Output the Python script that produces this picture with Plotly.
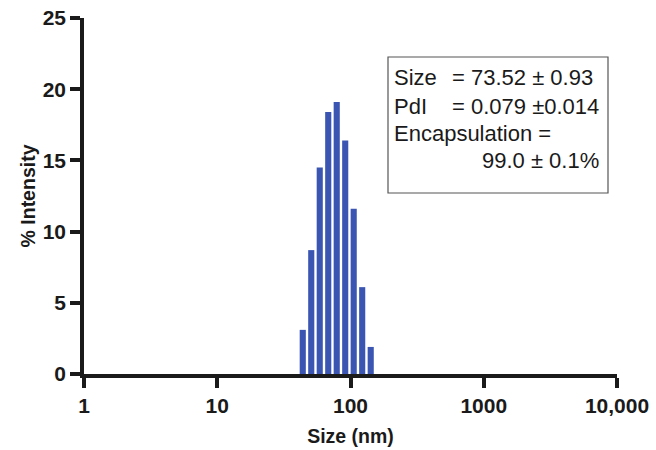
import numpy as np
import plotly.graph_objects as go

# Data
sizes_nm = [43.82, 50.75, 58.77, 68.06, 78.82, 91.28, 105.7, 122.4, 141.8]
intensity = [3.1, 8.7, 14.5, 18.4, 19.1, 16.4, 11.6, 6.1, 1.9]
x_tickvals = [1, 10, 100, 1000, 10000]
x_ticktext = ["1", "10", "100", "1000", "10,000"]
y_tickvals = [0, 5, 10, 15, 20, 25]
info_labels = ["Size", "PdI", "Encapsulation ="]
info_values = ["= 73.52 ± 0.93", "= 0.079 ±0.014"]
info_last = "99.0 ± 0.1%"

W, H = 656, 450
L, R, T, B = 84, 39, 18, 76
pw, ph = W - L - R, H - T - B

def px(x):
    return (x - L) / pw

def py(y):
    return (H - B - y) / ph

fig = go.Figure()
fig.add_trace(go.Bar(
    x=np.log10(sizes_nm), y=intensity, width=0.046,
    marker=dict(color="#3b56b2", line=dict(width=0)),
))

font_family = "Liberation Sans, Arial, sans-serif"
axis_common = dict(
    showline=True, linecolor="#1a1a1a", linewidth=3.5,
    ticks="outside", ticklen=10, tickwidth=3.5, tickcolor="#1a1a1a",
    showgrid=False, zeroline=False, automargin=False,
    tickfont=dict(family=font_family, size=21, color="#1a1a1a", weight="bold"),
)

fig.update_layout(
    width=W, height=H,
    margin=dict(l=L, r=R, t=T, b=B),
    paper_bgcolor="white", plot_bgcolor="white",
    showlegend=False,
    xaxis=dict(
        range=[0, 4], tickvals=np.log10(x_tickvals), ticktext=x_ticktext,
        title=dict(text="Size (nm)", standoff=14,
                   font=dict(family=font_family, size=19.5, color="#1a1a1a", weight="bold")),
        **axis_common,
    ),
    yaxis=dict(
        range=[0, 25], tickvals=y_tickvals,
        title=dict(text="% Intensity", standoff=3,
                   font=dict(family=font_family, size=19.5, color="#1a1a1a", weight="bold")),
        **axis_common,
    ),
)

# Info box
fig.add_shape(type="rect", xref="paper", yref="paper",
              x0=px(388), x1=px(608), y0=py(57), y1=py(193),
              line=dict(color="#555555", width=1.2), fillcolor="white")

afont = dict(family=font_family, size=22, color="#1a1a1a")
line_y = [78, 106, 133, 160]
for i, lab in enumerate(info_labels):
    fig.add_annotation(xref="paper", yref="paper", x=px(392), y=py(line_y[i]),
                       text=lab, showarrow=False, xanchor="left", yanchor="middle", font=afont)
for i, val in enumerate(info_values):
    fig.add_annotation(xref="paper", yref="paper", x=px(450), y=py(line_y[i]),
                       text=val, showarrow=False, xanchor="left", yanchor="middle", font=afont)
fig.add_annotation(xref="paper", yref="paper", x=px(601), y=py(line_y[3]),
                   text=info_last, showarrow=False, xanchor="right", yanchor="middle", font=afont)

fig.write_html("out.html")
